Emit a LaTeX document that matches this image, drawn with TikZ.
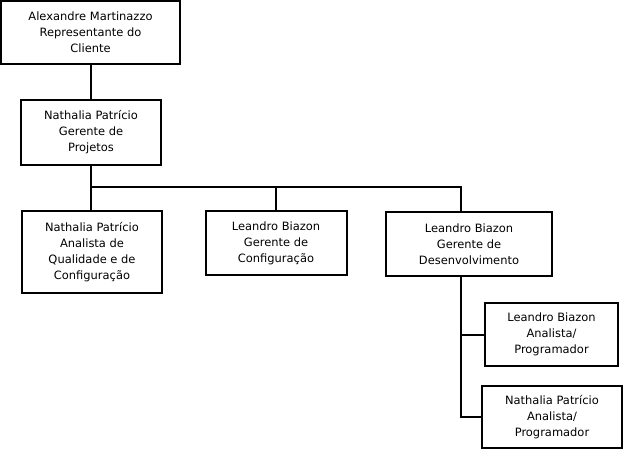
\documentclass[tikz,border=0pt]{standalone}
\usepackage{fontspec}
\setmainfont{DejaVu Sans}
\begin{document}
\begin{tikzpicture}[x=0.75pt,y=-0.75pt,
  box/.style={draw,line width=1.5pt,rectangle,align=center,inner sep=0pt,
    font=\fontsize{8.6}{12}\selectfont},
  conn/.style={line width=1.5pt}]
\useasboundingbox (0,0) rectangle (625,453);
\node[box,minimum width=179*0.75pt,minimum height=63*0.75pt] (b1) at (90.5,32.5) {Alexandre Martinazzo\\Representante do\\Cliente};
\node[box,minimum width=140*0.75pt,minimum height=65*0.75pt] (b2) at (91,132.5) {Nathalia Patrício\\Gerente de\\Projetos};
\node[box,minimum width=140*0.75pt,minimum height=82*0.75pt] (b3) at (92,252) {Nathalia Patrício\\Analista de\\Qualidade e de\\Configuração};
\node[box,minimum width=141*0.75pt,minimum height=64*0.75pt] (b4) at (276,243) {Leandro Biazon\\Gerente de\\Configuração};
\node[box,minimum width=166*0.75pt,minimum height=64*0.75pt] (b5) at (469,244) {Leandro Biazon\\Gerente de\\Desenvolvimento};
\node[box,minimum width=133*0.75pt,minimum height=63*0.75pt] (b6) at (551.5,334.5) {Leandro Biazon\\Analista/\\Programador};
\node[box,minimum width=140*0.75pt,minimum height=62*0.75pt] (b7) at (552,417) {Nathalia Patrício\\Analista/\\Programador};
\coordinate (j) at (91,187);
\coordinate (k) at (461,187);
\coordinate (d) at (461,276);
\draw[conn] (b1.south-|j) -- (b2.north-|j);
\draw[conn] (b2.south-|j) -- (j) -- (k) -- (k|-b5.north);
\draw[conn] (j) -- (j|-b3.north);
\draw[conn] (b4.north) -- (b4.north|-j);
\draw[conn] (d|-b5.south) -- (d|-b7.west) -- (b7.west);
\draw[conn] (d|-b6.west) -- (b6.west);
\end{tikzpicture}
\end{document}
